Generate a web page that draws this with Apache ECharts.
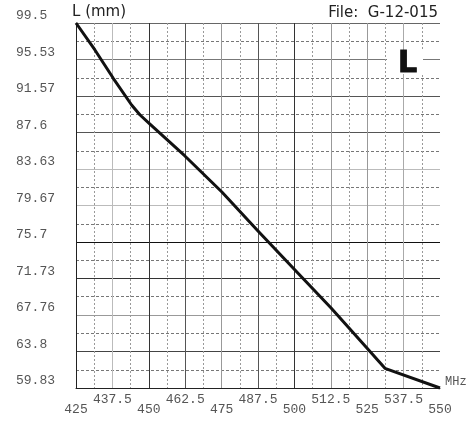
<!DOCTYPE html>
<html><head><meta charset="utf-8">
<script src="https://cdn.jsdelivr.net/npm/echarts@6/dist/echarts.min.js"></script>
<style>html,body{margin:0;padding:0;background:#fff}#c{width:466px;height:423px}</style>
</head><body><div id="c"></div>
<script>
// Data
const freqMHz = [425, 431.5, 437.8, 444.1, 447.0, 450.4, 462.4, 475.1, 487.5, 500.2, 512.6, 524.9, 531.1, 550];
const lengthMM = [99.5, 96.57, 93.49, 90.59, 89.50, 88.52, 85.05, 81.13, 76.89, 72.66, 68.53, 64.18, 61.97, 59.83];
const xTickLabels = ['425', '437.5', '450', '462.5', '475', '487.5', '500', '512.5', '525', '537.5', '550'];
const yTickLabels = ['59.83', '63.8', '67.76', '71.73', '75.7', '79.67', '83.63', '87.6', '91.57', '95.53', '99.5'];

const chart = echarts.init(document.getElementById('c'), null, {renderer: 'canvas'});
const mono = '"Liberation Mono", "DejaVu Sans Mono", monospace';
chart.setOption({
  animation: false,
  backgroundColor: '#fff',
  grid: {left: 76, right: 26, top: 23, bottom: 35, containLabel: false},
  xAxis: {
    type: 'value', min: 425, max: 550, interval: 12.5,
    axisLine: {show: true, lineStyle: {color: '#222', width: 1}},
    axisTick: {show: false},
    axisLabel: {
      margin: 6, fontFamily: mono, fontSize: 13, color: '#555',
      formatter: (v, i) => (i % 2 ? '{u|' : '{l|') + xTickLabels[i] + '}',
      rich: {u: {lineHeight: 12, fontFamily: mono, fontSize: 13, color: '#555'},
             l: {lineHeight: 32, fontFamily: mono, fontSize: 13, color: '#555'}}
    },
    splitLine: {show: true, lineStyle: {width: 1, type: 'solid',
      color: ['#222', '#bbb', '#333', '#555', '#999', '#555', '#333', '#999', '#999', '#aaa', 'rgba(0,0,0,0)']}},
    minorTick: {show: false, splitNumber: 2},
    minorSplitLine: {show: true, lineStyle: {color: '#999', width: 1, type: [2, 2]}}
  },
  yAxis: {
    type: 'value', min: 59.83, max: 99.5, interval: 3.967,
    axisLine: {show: true, lineStyle: {color: '#222', width: 1}},
    axisTick: {show: false},
    axisLabel: {
      margin: 60, align: 'left', verticalAlign: 'bottom', lineHeight: 14,
      fontFamily: mono, fontSize: 13, color: '#555',
      formatter: (v, i) => yTickLabels[i]
    },
    splitLine: {show: true, lineStyle: {width: 1, type: 'solid',
      color: ['#222', '#444', '#999', '#333', '#111', '#bbb', '#bbb', '#555', '#555', '#777', '#666']}},
    minorTick: {show: false, splitNumber: 2},
    minorSplitLine: {show: true, lineStyle: {color: '#777', width: 1, type: [3, 2]}}
  },
  series: [{
    type: 'line', data: freqMHz.map((f, i) => [f, lengthMM[i]]),
    showSymbol: false, symbol: 'none', smooth: false, clip: false,
    lineStyle: {color: '#111', width: 3, join: 'round'}
  }],
  graphic: [
    {type: 'text', left: 72, top: 5, style: {text: 'L (mm)', fontSize: 15, fontFamily: '"DejaVu Sans", sans-serif', fill: '#222'}},
    {type: 'text', right: 28, top: 6, style: {text: 'File:  G-12-015', fontSize: 15, fontFamily: '"DejaVu Sans", sans-serif', fill: '#222'}},
    {type: 'rect', z: 10, shape: {x: 387, y: 50, width: 36, height: 24}, style: {fill: '#fff'}},
    {type: 'text', z: 20, x: 398, y: 49, style: {text: 'L', font: 'bold 30px "DejaVu Sans"', fill: '#111', stroke: '#111', lineWidth: 1}},
    {type: 'text', left: 445, top: 376, style: {text: 'MHz', fontSize: 12, fontFamily: mono, fill: '#555'}}
  ]
});
</script></body></html>
